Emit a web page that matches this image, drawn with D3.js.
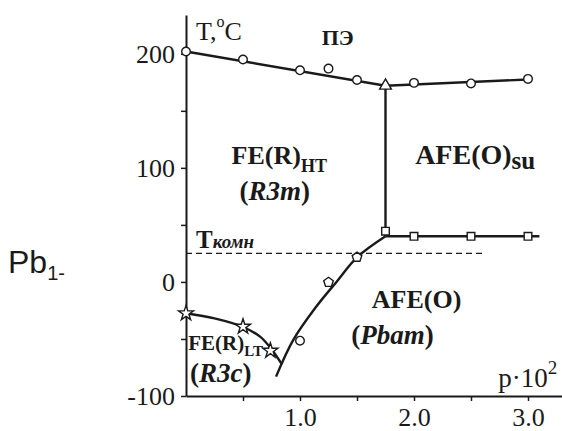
<!DOCTYPE html>
<html>
<head>
<meta charset="utf-8">
<script src="https://cdn.jsdelivr.net/npm/d3@7"></script>
<style>
  html, body { margin: 0; padding: 0; background: #fff; }
  svg { display: block; }
  text { fill: #1a1a1a; }
</style>
</head>
<body>
<svg id="chart" width="562" height="431"></svg>
<script>
// Phase diagram: transition temperature T (°C) versus p·10²

const SERIF = "Liberation Serif";
const SANS = "Liberation Sans";

// Upper paraelectric boundary (measured points, circles)
const peP = [0, 0.5, 1.0, 1.25, 1.5, 2.0, 2.5, 3.0];
const peT = [202, 195, 185.5, 187, 177, 174.5, 174, 178];
// fitted upper boundary
const peLineP = [0, 1.75, 3.0];
const peLineT = [202, 172, 177.5];
// triple point (triangle)
const tripleP = [1.75];
const tripleT = [172];

// AFE(O) / AFE(O)su boundary (squares)
const suP = [1.75, 2.0, 2.5, 3.0];
const suT = [44.5, 40, 40, 40];
const suLineP = [1.75, 3.1];
const suLineT = [40, 40];

// vertical FE(R)HT / AFE(O)su boundary
const vertP = [1.75, 1.75];
const vertT = [172, 40];

// low-temperature FE(R) boundary (stars)
const ltP = [0, 0.5, 0.74];
const ltT = [-27.5, -39.2, -60.3];
const ltCurveP = [0, 0.25, 0.5, 0.65, 0.75, 0.84];
const ltCurveT = [-27.5, -32, -39.5, -48, -59, -72];

// FE(R) / AFE(O) boundary: circle and pentagon points
const afeCircP = [1.0];
const afeCircT = [-51.5];
const afePentP = [1.25, 1.5];
const afePentT = [-0.3, 21.7];
const afeCurveP = [0.79, 0.94, 1.14, 1.32, 1.5, 1.75];
const afeCurveT = [-83, -51, -22, 0, 21.5, 40];

// room temperature (dashed)
const roomP = [0, 2.61];
const roomT = [25, 25];

// axis ticks
const yTicks = [-100, -50, 0, 50, 100, 150, 200];
const yLabels = [-100, 0, 100, 200];
const xTicks = [0.5, 1.0, 1.5, 2.0, 2.5, 3.0];
const xLabels = [1.0, 2.0, 3.0];

const svg = d3.select("#chart");
const x = d3.scaleLinear().domain([0, 3.3]).range([186, 562.2]);
const y = d3.scaleLinear().domain([-100, 234]).range([396, 15]);

const pts = (ps, ts) => ps.map((p, i) => [p, ts[i]]);
const line = d3.line().x(d => x(d[0])).y(d => y(d[1]));
const curve = d3.line().x(d => x(d[0])).y(d => y(d[1])).curve(d3.curveCatmullRom.alpha(0.5));

// axes
const yAxis = d3.axisLeft(y).tickValues(yTicks).tickSize(5).tickPadding(6).tickSizeOuter(0)
  .tickFormat(d => yLabels.includes(d) ? String(d) : "");
const xAxis = d3.axisBottom(x).tickValues(xTicks).tickSize(5).tickPadding(7).tickSizeOuter(0)
  .tickFormat(d => xLabels.includes(d) ? d.toFixed(1) : "");

const gy = svg.append("g").attr("transform", `translate(${x(0)},0)`).call(yAxis);
const gx = svg.append("g").attr("transform", `translate(0,${y(-100)})`).call(xAxis);
[gy, gx].forEach(g => {
  g.attr("font-family", SERIF).attr("font-size", 26);
  g.select(".domain").attr("stroke", "#1a1a1a").attr("stroke-width", 2);
  g.selectAll(".tick line").attr("stroke", "#1a1a1a").attr("stroke-width", 1.5);
  g.selectAll(".tick text").attr("font-size", 26).attr("font-family", SERIF).attr("fill", "#1a1a1a");
});

// lines
const lineStyle = s => s.attr("fill", "none").attr("stroke", "#1a1a1a").attr("stroke-width", 2.4);
svg.append("path").datum(pts(roomP, roomT)).attr("d", line)
  .attr("fill", "none").attr("stroke", "#1a1a1a").attr("stroke-width", 1.3).attr("stroke-dasharray", "6,4");
svg.append("path").datum(pts(peLineP, peLineT)).attr("d", line).call(lineStyle);
svg.append("path").datum(pts(vertP, vertT)).attr("d", line).call(lineStyle);
svg.append("path").datum(pts(suLineP, suLineT)).attr("d", line).call(lineStyle);
svg.append("path").datum(pts(ltCurveP, ltCurveT)).attr("d", curve).call(lineStyle);
svg.append("path").datum(pts(afeCurveP, afeCurveT)).attr("d", curve).call(lineStyle);

// markers
const symbolPentagon = {
  draw(ctx, size) {
    const r = Math.sqrt(size / (2.5 * Math.sin(2 * Math.PI / 5)));
    for (let i = 0; i < 5; i++) {
      const a = -Math.PI / 2 + i * 2 * Math.PI / 5;
      if (i === 0) ctx.moveTo(r * Math.cos(a), r * Math.sin(a));
      else ctx.lineTo(r * Math.cos(a), r * Math.sin(a));
    }
    ctx.closePath();
  }
};
function markers(ps, ts, type, size) {
  svg.append("g").selectAll("path").data(pts(ps, ts)).join("path")
    .attr("transform", d => `translate(${x(d[0])},${y(d[1])})`)
    .attr("d", d3.symbol().type(type).size(size))
    .attr("fill", "#fff").attr("stroke", "#1a1a1a").attr("stroke-width", 1.4);
}
markers(peP, peT, d3.symbolCircle, 58);
markers(tripleP, tripleT, d3.symbolTriangle, 60);
markers(suP, suT, d3.symbolSquare, 58);
markers(ltP, ltT, d3.symbolStar, 70);
markers(afeCircP, afeCircT, d3.symbolCircle, 58);
markers(afePentP, afePentT, symbolPentagon, 60);

// text helper: parts = [[text, {size, weight, style, dy}]]
function label(px, py, parts, family) {
  const fam = family || SERIF;
  const t = svg.append("text").attr("x", px).attr("y", py).attr("font-family", fam);
  parts.forEach(([s, o]) => {
    const ts = t.append("tspan").text(s)
      .attr("font-family", fam)
      .attr("font-size", o.size)
      .attr("font-weight", o.weight || "normal")
      .attr("font-style", o.style || "normal");
    if (o.dy) ts.attr("dy", o.dy);
  });
  return t;
}

// axis titles
label(x(0.088), 39.5, [["T,", {size: 26}], ["o", {size: 16, dy: -13}], ["C", {size: 26, dy: 13}]]);
label(x(2.74), y(-91.8), [["p·10", {size: 27}], ["2", {size: 19, dy: -13}]]);

// region labels
label(x(1.19), y(208), [["ПЭ", {size: 22, weight: "bold"}]]);
label(x(0.4), y(103.2), [["FE(R)", {size: 26, weight: "bold"}], ["HT", {size: 18, weight: "bold", dy: 8}]]);
label(x(0.47), y(72), [["(", {size: 27, weight: "bold"}], ["R3m", {size: 27, weight: "bold", style: "italic"}], [")", {size: 27, weight: "bold"}]]);
label(x(2.01), y(103), [["AFE(O)", {size: 28, weight: "bold"}], ["su", {size: 25, weight: "bold", dy: 5}]]);
label(x(0.088), y(29.6), [["T", {size: 25, weight: "bold"}], ["комн", {size: 19, weight: "bold", style: "italic"}]]);
label(x(1.63), y(-22.8), [["AFE(O)", {size: 26, weight: "bold"}]]);
label(x(1.45), y(-54), [["(", {size: 27, weight: "bold"}], ["Pbam", {size: 27, weight: "bold", style: "italic"}], [")", {size: 27, weight: "bold"}]]);
label(x(0.02), y(-60), [["FE(R)", {size: 21, weight: "bold"}], ["LT", {size: 15, weight: "bold", dy: 6}]]);
label(x(0.035), y(-88), [["(", {size: 27, weight: "bold"}], ["R3c", {size: 27, weight: "bold", style: "italic"}], [")", {size: 27, weight: "bold"}]]);

// compound formula at the left
label(8, 272.7, [["Pb", {size: 32}], ["1-", {size: 20, dy: 7}]], SANS);
</script>
</body>
</html>
